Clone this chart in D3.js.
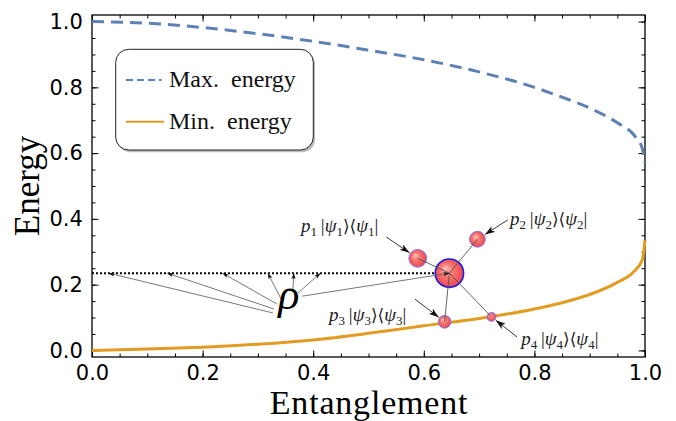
<!DOCTYPE html>
<html>
<head>
<meta charset="utf-8">
<script src="https://cdn.jsdelivr.net/npm/d3@7"></script>
<style>
  body { margin: 0; background: #fff; }
  svg { display: block; }
</style>
</head>
<body>
<div id="chart"></div>
<script>
// curves
const entanglement = [0, 0.1, 0.2, 0.3, 0.4, 0.5, 0.6, 0.7, 0.8, 0.85, 0.9, 0.95, 0.98, 0.995, 1.0];
const maxEnergy = [1.0, 0.995, 0.982, 0.963, 0.94, 0.913, 0.884, 0.847, 0.8, 0.77, 0.737, 0.692, 0.655, 0.615, 0.57];
const minEnergy = [0, 0.004, 0.01, 0.019, 0.032, 0.052, 0.075, 0.097, 0.126, 0.145, 0.17, 0.207, 0.24, 0.275, 0.335];

const xTicks = [0, 0.2, 0.4, 0.6, 0.8, 1.0];
const yTicks = [0, 0.2, 0.4, 0.6, 0.8, 1.0];

// mixed state rho and its decomposition
const rho = { x: 0.6463, y: 0.235 };
const stateX = [0.589, 0.697, 0.6376, 0.7224];
const stateY = [0.280, 0.338, 0.087, 0.102];
const stateWeight = [0.39, 0.31, 0.2, 0.1];
const stateIndex = ["1", "2", "3", "4"];
const labelPos = [[0.378, 0.36], [0.756, 0.381], [0.4286, 0.0894], [0.776, 0.0164]];
const arrowFrom = [[0.532, 0.345], [0.752, 0.397], [0.584, 0.156], [0.7685, 0.041]];

// rho label and the arrows pointing at the dotted line
const rhoLabel = [0.356, 0.127];
const rhoTargets = [0.03, 0.136, 0.236, 0.318, 0.365, 0.413];
const rhoSources = [[0.327, 0.114], [0.329, 0.126], [0.3345, 0.141], [0.342, 0.156], [0.363, 0.178], [0.3725, 0.1745]];
const rhoToCenter = [0.38, 0.165];

const width = 676, height = 421;
const mLeft = 92, mRight = 645, mTop = 15, mBottom = 357;

const svg = d3.select("#chart").append("svg")
    .attr("width", width)
    .attr("height", height);

const x = d3.scaleLinear().domain([0, 1]).range([mLeft, mRight]);
const y = d3.scaleLinear().domain([-0.02, 1.02]).range([mBottom, mTop]);
const r = d3.scaleSqrt().domain([0, 1]).range([0, 14.2]);

const defs = svg.append("defs");
const grad = defs.append("radialGradient").attr("id", "ball")
    .attr("cx", "50%").attr("cy", "50%").attr("r", "55%")
    .attr("fx", "35%").attr("fy", "32%");
grad.append("stop").attr("offset", "0%").attr("stop-color", "#ffc4bd");
grad.append("stop").attr("offset", "40%").attr("stop-color", "#fa7872");
grad.append("stop").attr("offset", "100%").attr("stop-color", "#ec4048");

function marker(id, w, h) {
    defs.append("marker").attr("id", id)
        .attr("viewBox", `0 ${-h} ${w} ${2 * h}`)
        .attr("refX", w).attr("refY", 0)
        .attr("markerWidth", w).attr("markerHeight", 2 * h)
        .attr("markerUnits", "userSpaceOnUse")
        .attr("orient", "auto")
        .append("path")
        .attr("d", `M0,${-h}L${w},0L0,${h}L${w * 0.25},0Z`)
        .attr("fill", "#111");
}
marker("tiny", 6, 2.2);
marker("big", 10, 3.3);

// ticks, inward on all four sides
const fmt = d3.format(".1f");
const minor = d3.range(0, 1.0001, 0.05);

function ticks(axis, tr, vals, size, labels) {
    const g = svg.append("g").attr("transform", tr)
        .call(axis.tickValues(vals).tickSize(size).tickPadding(labels ? 7 : 0)
            .tickFormat(labels ? fmt : ""));
    g.select(".domain").remove();
    g.selectAll("line").attr("stroke", "#000").attr("stroke-width", 1);
    g.selectAll("text").attr("font-family", "DejaVu Sans").attr("font-size", 21).attr("fill", "#000");
    return g;
}
ticks(d3.axisBottom(x), `translate(0,${mBottom})`, minor, -3.5, false);
ticks(d3.axisBottom(x), `translate(0,${mBottom})`, xTicks, -6.5, false);
ticks(d3.axisBottom(x), `translate(0,${mBottom})`, xTicks, 0, true).selectAll("text").attr("dy", "0.78em");
ticks(d3.axisTop(x), `translate(0,${mTop})`, minor, -3.5, false);
ticks(d3.axisTop(x), `translate(0,${mTop})`, xTicks, -6.5, false);
ticks(d3.axisLeft(y), `translate(${mLeft},0)`, minor, -3.5, false);
ticks(d3.axisLeft(y), `translate(${mLeft},0)`, yTicks, -6.5, false);
ticks(d3.axisLeft(y), `translate(${mLeft},0)`, yTicks, 0, true).selectAll("text").attr("dx", "-0.1em");
ticks(d3.axisRight(y), `translate(${mRight},0)`, minor, -3.5, false);
ticks(d3.axisRight(y), `translate(${mRight},0)`, yTicks, -6.5, false);

svg.append("rect")
    .attr("x", mLeft).attr("y", mTop)
    .attr("width", mRight - mLeft).attr("height", mBottom - mTop)
    .attr("fill", "none").attr("stroke", "#000").attr("stroke-width", 1.3);

// curves
const line = d3.line().x(d => x(d[0])).y(d => y(d[1])).curve(d3.curveMonotoneX);

svg.append("path")
    .datum(entanglement.map((e, i) => [e, maxEnergy[i]]))
    .attr("d", line)
    .attr("fill", "none")
    .attr("stroke", "#5E81B5")
    .attr("stroke-width", 3)
    .attr("stroke-dasharray", "12,7");

svg.append("path")
    .datum(entanglement.map((e, i) => [e, minEnergy[i]]))
    .attr("d", line)
    .attr("fill", "none")
    .attr("stroke", "#E19C24")
    .attr("stroke-width", 3);

// dotted line at the energy of rho
svg.append("line")
    .attr("x1", x(0)).attr("x2", x(rho.x))
    .attr("y1", y(rho.y)).attr("y2", y(rho.y))
    .attr("stroke", "#000").attr("stroke-width", 2)
    .attr("stroke-dasharray", "2,2");

// rho arrows
svg.append("g").selectAll("line")
    .data(rhoTargets)
    .join("line")
    .attr("x1", (d, i) => x(rhoSources[i][0]))
    .attr("y1", (d, i) => y(rhoSources[i][1]))
    .attr("x2", d => x(d))
    .attr("y2", y(rho.y))
    .attr("stroke", "#555").attr("stroke-width", 0.8)
    .attr("marker-end", "url(#tiny)");

// state balls
const states = stateX.map((sx, i) => ({ x: sx, y: stateY[i], w: stateWeight[i], k: stateIndex[i], lab: labelPos[i], from: arrowFrom[i] }));

svg.append("g").selectAll("circle")
    .data(states)
    .join("circle")
    .attr("cx", d => x(d.x)).attr("cy", d => y(d.y))
    .attr("r", d => r(d.w))
    .attr("fill", "url(#ball)")
    .attr("stroke", "#7b7bff").attr("stroke-width", 1);

svg.append("circle")
    .attr("cx", x(rho.x)).attr("cy", y(rho.y))
    .attr("r", r(1))
    .attr("fill", "url(#ball)")
    .attr("stroke", "#1a1aee").attr("stroke-width", 1.6);

svg.append("g").selectAll("line")
    .data(states)
    .join("line")
    .attr("x1", x(rho.x)).attr("y1", y(rho.y))
    .attr("x2", d => x(d.x)).attr("y2", d => y(d.y))
    .attr("stroke", "#555").attr("stroke-width", 0.9);

svg.append("line")
    .attr("x1", x(rhoToCenter[0])).attr("y1", y(rhoToCenter[1]))
    .attr("x2", x(rho.x)).attr("y2", y(rho.y))
    .attr("stroke", "#555").attr("stroke-width", 0.8)
    .attr("marker-end", "url(#tiny)");

// label arrows stop at the ball edge
svg.append("g").selectAll("line")
    .data(states)
    .join("line")
    .each(function(d) {
        const x1 = x(d.from[0]), y1 = y(d.from[1]);
        const cx = x(d.x), cy = y(d.y);
        const len = Math.hypot(cx - x1, cy - y1);
        const t = (len - r(d.w) - 1) / len;
        d3.select(this)
            .attr("x1", x1).attr("y1", y1)
            .attr("x2", x1 + (cx - x1) * t).attr("y2", y1 + (cy - y1) * t);
    })
    .attr("stroke", "#222").attr("stroke-width", 0.9)
    .attr("marker-end", "url(#big)");

// p_i |psi_i><psi_i| labels
const labels = svg.append("g").selectAll("text")
    .data(states)
    .join("text")
    .attr("x", d => x(d.lab[0])).attr("y", d => y(d.lab[1]))
    .attr("font-family", "Liberation Serif")
    .attr("font-size", 19)
    .attr("fill", "#222");

labels.each(function(d) {
    const t = d3.select(this);
    t.append("tspan").attr("font-style", "italic").text("p");
    t.append("tspan").attr("font-size", 13).attr("dy", 4).text(d.k);
    t.append("tspan").attr("dy", -4).text("\u2009|");
    t.append("tspan").attr("font-style", "italic").text("\u03c8");
    t.append("tspan").attr("font-size", 13).attr("dy", 4).text(d.k);
    t.append("tspan").attr("dy", -4).attr("font-family", "DejaVu Serif").attr("font-size", 17).text("\u27e9\u27e8");
    t.append("tspan").attr("font-style", "italic").text("\u03c8");
    t.append("tspan").attr("font-size", 13).attr("dy", 4).text(d.k);
    t.append("tspan").attr("dy", -4).text("|");
});

svg.append("text")
    .attr("x", x(rhoLabel[0])).attr("y", y(rhoLabel[1]))
    .attr("text-anchor", "middle")
    .attr("font-family", "Liberation Serif")
    .attr("font-style", "italic")
    .attr("font-size", 44)
    .text("\u03c1");

// legend
const legend = svg.append("g");
legend.append("rect")
    .attr("x", 117.5).attr("y", 51.5).attr("width", 197.6).attr("height", 100.7)
    .attr("rx", 13).attr("fill", "#bbb");
legend.append("rect")
    .attr("x", 115.7).attr("y", 49.3).attr("width", 197.6).attr("height", 100.7)
    .attr("rx", 13).attr("fill", "#fff").attr("stroke", "#222").attr("stroke-width", 1);

const legendItems = [
    { name: "Max.\u2002energy", color: "#5E81B5", dash: "7,4" },
    { name: "Min.\u2002energy", color: "#E19C24", dash: null }
];
legendItems.forEach((d, i) => {
    const yy = 80 + i * 41.7;
    legend.append("line")
        .attr("x1", 126).attr("x2", i ? 164 : 161.7)
        .attr("y1", yy).attr("y2", yy)
        .attr("stroke", d.color).attr("stroke-width", 2)
        .attr("stroke-dasharray", d.dash);
    legend.append("text")
        .attr("x", 169).attr("y", yy + 7)
        .attr("font-family", "Liberation Serif")
        .attr("font-size", 24)
        .attr("fill", "#111")
        .text(d.name);
});

// axis titles
svg.append("text")
    .attr("x", (mLeft + mRight) / 2 + 0.5).attr("y", 413.5)
    .attr("text-anchor", "middle")
    .attr("font-family", "Liberation Serif")
    .attr("font-size", 34)
    .attr("letter-spacing", 0.8)
    .text("Entanglement");

svg.append("text")
    .attr("transform", `translate(39,${(130 + 242) / 2}) rotate(-90)`)
    .attr("text-anchor", "middle")
    .attr("font-family", "Liberation Serif")
    .attr("font-size", 35)
    .text("Energy");
</script>
</body>
</html>
